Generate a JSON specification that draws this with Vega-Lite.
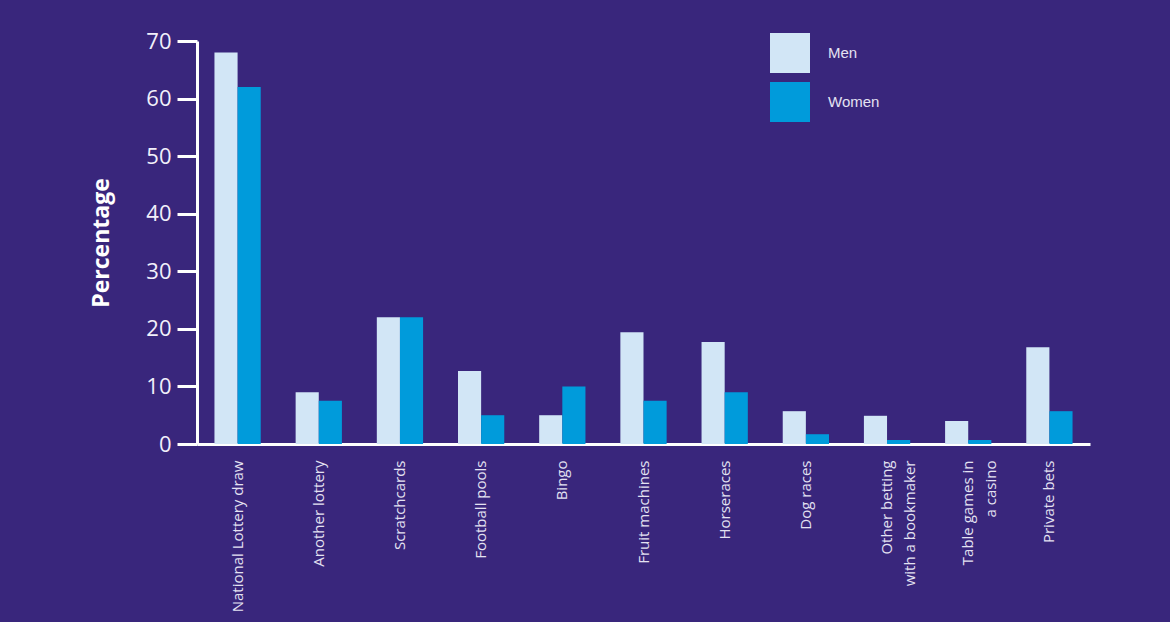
{
  "$schema": "https://vega.github.io/schema/vega-lite/v6.json",
  "autosize": {"type": "none"},
  "padding": {"left": 197, "top": 41, "right": 80, "bottom": 178},
  "width": 893,
  "height": 403,
  "background": "#39267c",
  "config": {
    "view": {"stroke": null},
    "font": "Open Sans"
  },
  "data": {
    "values": [
      {"activity": "National Lottery draw", "sex": "Men", "pct": 68},
      {"activity": "National Lottery draw", "sex": "Women", "pct": 62},
      {"activity": "Another lottery", "sex": "Men", "pct": 9},
      {"activity": "Another lottery", "sex": "Women", "pct": 7.5},
      {"activity": "Scratchcards", "sex": "Men", "pct": 22},
      {"activity": "Scratchcards", "sex": "Women", "pct": 22},
      {"activity": "Football pools", "sex": "Men", "pct": 12.7},
      {"activity": "Football pools", "sex": "Women", "pct": 5},
      {"activity": "Bingo", "sex": "Men", "pct": 5},
      {"activity": "Bingo", "sex": "Women", "pct": 10},
      {"activity": "Fruit machines", "sex": "Men", "pct": 19.4},
      {"activity": "Fruit machines", "sex": "Women", "pct": 7.5},
      {"activity": "Horseraces", "sex": "Men", "pct": 17.7},
      {"activity": "Horseraces", "sex": "Women", "pct": 9},
      {"activity": "Dog races", "sex": "Men", "pct": 5.7},
      {"activity": "Dog races", "sex": "Women", "pct": 1.7},
      {"activity": "Other betting|with a bookmaker", "sex": "Men", "pct": 4.9},
      {"activity": "Other betting|with a bookmaker", "sex": "Women", "pct": 0.7},
      {"activity": "Table games in|a casino", "sex": "Men", "pct": 4},
      {"activity": "Table games in|a casino", "sex": "Women", "pct": 0.7},
      {"activity": "Private bets", "sex": "Men", "pct": 16.8},
      {"activity": "Private bets", "sex": "Women", "pct": 5.7}
    ]
  },
  "mark": {"type": "bar"},
  "encoding": {
    "x": {
      "field": "activity",
      "type": "nominal",
      "sort": null,
      "scale": {"paddingInner": 0.43, "paddingOuter": 0.215},
      "axis": {
        "title": null,
        "labelAngle": -90,
        "labelAlign": "right",
        "labelBaseline": "middle",
        "labelExpr": "split(datum.label, '|')",
        "labelFontSize": 15,
        "labelColor": "#e4e2f2",
        "labelPadding": 16,
        "labelFont": "Open Sans",
        "ticks": false,
        "domainColor": "#ffffff",
        "domainWidth": 3,
        "labelLineHeight": 23
      }
    },
    "xOffset": {"field": "sex", "type": "nominal", "sort": ["Men", "Women"]},
    "y": {
      "field": "pct",
      "type": "quantitative",
      "scale": {"domain": [0, 70], "nice": false},
      "axis": {
        "title": "Percentage",
        "titleFontSize": 23,
        "titleFontWeight": "bold",
        "titleColor": "#ffffff",
        "titleFont": "Open Sans",
        "titlePadding": 32,
        "values": [0, 10, 20, 30, 40, 50, 60, 70],
        "grid": false,
        "tickSize": 20,
        "tickWidth": 3,
        "tickColor": "#ffffff",
        "domainColor": "#ffffff",
        "domainWidth": 3,
        "labelFontSize": 22,
        "labelColor": "#f2f0fa",
        "labelPadding": 6,
        "labelFont": "Open Sans"
      }
    },
    "color": {
      "field": "sex",
      "type": "nominal",
      "scale": {"domain": ["Men", "Women"], "range": ["#d2e6f6", "#009bdb"]},
      "legend": {
        "title": null,
        "orient": "none",
        "legendX": 573,
        "legendY": -8,
        "symbolType": "square",
        "symbolSize": 1600,
        "symbolStrokeWidth": 0,
        "rowPadding": 9,
        "labelOffset": 18,
        "labelFontSize": 15,
        "labelColor": "#e4e2f2",
        "labelFont": "Liberation Sans"
      }
    }
  }
}
